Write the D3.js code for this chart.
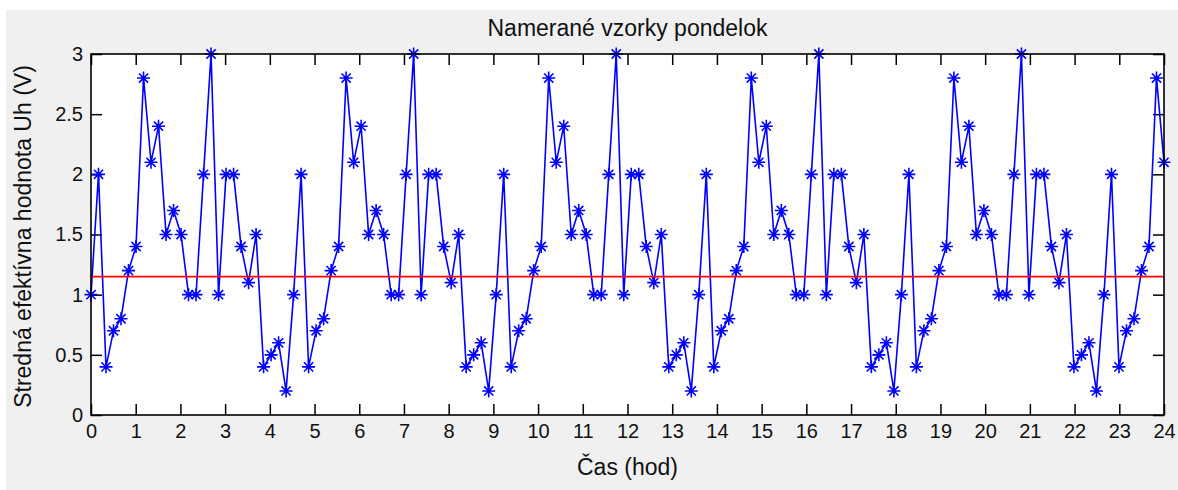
<!DOCTYPE html>
<html>
<head>
<meta charset="utf-8">
<script src="https://cdn.jsdelivr.net/npm/d3@7"></script>
<style>
    body { margin: 0; background: #fff; }
    svg { display: block; }
    text { font-family: "Liberation Sans", Arial, sans-serif; fill: #111; }
</style>
</head>
<body>
<svg id="chart"></svg>
<script>
// Measured samples (V), one every ~10 min from 0 h to 24 h
const voltage = [
    1.0, 2.0, 0.4, 0.7, 0.8, 1.2, 1.4, 2.8, 2.1, 2.4, 1.5, 1.7, 1.5, 1.0, 1.0, 2.0, 3.0, 1.0, 2.0, 2.0, 1.4, 1.1, 1.5, 0.4, 0.5, 0.6, 0.2,
    1.0, 2.0, 0.4, 0.7, 0.8, 1.2, 1.4, 2.8, 2.1, 2.4, 1.5, 1.7, 1.5, 1.0, 1.0, 2.0, 3.0, 1.0, 2.0, 2.0, 1.4, 1.1, 1.5, 0.4, 0.5, 0.6, 0.2,
    1.0, 2.0, 0.4, 0.7, 0.8, 1.2, 1.4, 2.8, 2.1, 2.4, 1.5, 1.7, 1.5, 1.0, 1.0, 2.0, 3.0, 1.0, 2.0, 2.0, 1.4, 1.1, 1.5, 0.4, 0.5, 0.6, 0.2,
    1.0, 2.0, 0.4, 0.7, 0.8, 1.2, 1.4, 2.8, 2.1, 2.4, 1.5, 1.7, 1.5, 1.0, 1.0, 2.0, 3.0, 1.0, 2.0, 2.0, 1.4, 1.1, 1.5, 0.4, 0.5, 0.6, 0.2,
    1.0, 2.0, 0.4, 0.7, 0.8, 1.2, 1.4, 2.8, 2.1, 2.4, 1.5, 1.7, 1.5, 1.0, 1.0, 2.0, 3.0, 1.0, 2.0, 2.0, 1.4, 1.1, 1.5, 0.4, 0.5, 0.6, 0.2,
    1.0, 2.0, 0.4, 0.7, 0.8, 1.2, 1.4, 2.8, 2.1
];
const startHour = 0;
const endHour = 24;
const threshold = 1.15;   // red reference line
const xTicks = [0, 1, 2, 3, 4, 5, 6, 7, 8, 9, 10, 11, 12, 13, 14, 15, 16, 17, 18, 19, 20, 21, 22, 23, 24];
const yTicks = [0, 0.5, 1, 1.5, 2, 2.5, 3];

const titleText = "Namerané vzorky pondelok";
const xLabel = "Čas (hod)";
const yLabel = "Stredná efektívna hodnota Uh (V)";

const width = 1178, height = 490;
const margin = { top: 54, right: 14, bottom: 75, left: 91 };
const plotW = width - margin.left - margin.right;
const plotH = height - margin.top - margin.bottom;
const tickLen = 11;
const labelSize = 23;

const svg = d3.select("#chart").attr("width", width).attr("height", height);

// figure background
svg.append("rect")
    .attr("x", 6).attr("y", 10)
    .attr("width", width - 6).attr("height", height - 10)
    .attr("fill", "#f0f0f0");

const step = (endHour - startHour) / (voltage.length - 1);
const points = voltage.map((v, i) => ({ t: startHour + i * step, v: v }));

const x = d3.scaleLinear().domain([startHour, endHour]).range([0, plotW]);
const y = d3.scaleLinear().domain([0, 3]).range([plotH, 0]);

const g = svg.append("g").attr("transform", `translate(${margin.left},${margin.top})`);

g.append("rect").attr("width", plotW).attr("height", plotH).attr("fill", "#fff");

// axes with inward ticks, box on all sides
const axisStyle = sel => {
    sel.select(".domain").remove();
    sel.selectAll(".tick line").attr("stroke", "#000").attr("stroke-width", 1.5);
    sel.selectAll(".tick text").attr("font-size", 20).attr("fill", "#111");
};

g.append("g")
    .attr("transform", `translate(0,${plotH})`)
    .call(d3.axisBottom(x).tickValues(xTicks).tickFormat(d3.format("d"))
        .tickSizeInner(-tickLen).tickSizeOuter(0).tickPadding(9))
    .call(axisStyle);

g.append("g")
    .call(d3.axisTop(x).tickValues(xTicks).tickFormat("")
        .tickSizeInner(-tickLen).tickSizeOuter(0))
    .call(axisStyle);

g.append("g")
    .call(d3.axisLeft(y).tickValues(yTicks).tickFormat(d => String(d))
        .tickSizeInner(-tickLen).tickSizeOuter(0).tickPadding(8))
    .call(axisStyle);

g.append("g")
    .attr("transform", `translate(${plotW},0)`)
    .call(d3.axisRight(y).tickValues(yTicks).tickFormat("")
        .tickSizeInner(-tickLen).tickSizeOuter(0))
    .call(axisStyle);

// data line
const line = d3.line().x(d => x(d.t)).y(d => y(d.v));
g.append("path")
    .datum(points)
    .attr("d", line)
    .attr("fill", "none")
    .attr("stroke", "#0000ff")
    .attr("stroke-width", 1.6);

// asterisk markers
const a = 6.5, b = 4.6;
const starPath = `M${-a},0H${a}M0,${-a}V${a}M${-b},${-b}L${b},${b}M${-b},${b}L${b},${-b}`;
g.append("g")
    .selectAll("path")
    .data(points)
    .join("path")
    .attr("transform", d => `translate(${x(d.t)},${y(d.v)})`)
    .attr("d", starPath)
    .attr("stroke", "#0000ff")
    .attr("stroke-width", 1.6)
    .attr("fill", "none");

// reference level
g.append("line")
    .attr("x1", x(startHour)).attr("x2", x(endHour))
    .attr("y1", y(threshold)).attr("y2", y(threshold))
    .attr("stroke", "#ff0000")
    .attr("stroke-width", 1.6);

// box
g.append("rect")
    .attr("width", plotW).attr("height", plotH)
    .attr("fill", "none").attr("stroke", "#000").attr("stroke-width", 1.6);

// labels
svg.append("text")
    .attr("x", margin.left + plotW / 2).attr("y", 36)
    .attr("text-anchor", "middle").attr("font-size", labelSize)
    .text(titleText);

svg.append("text")
    .attr("x", margin.left + plotW / 2).attr("y", 475)
    .attr("text-anchor", "middle").attr("font-size", labelSize)
    .text(xLabel);

svg.append("text")
    .attr("transform", `translate(31,${margin.top + plotH / 2 + 2}) rotate(-90)`)
    .attr("text-anchor", "middle").attr("font-size", labelSize)
    .text(yLabel);
</script>
</body>
</html>
